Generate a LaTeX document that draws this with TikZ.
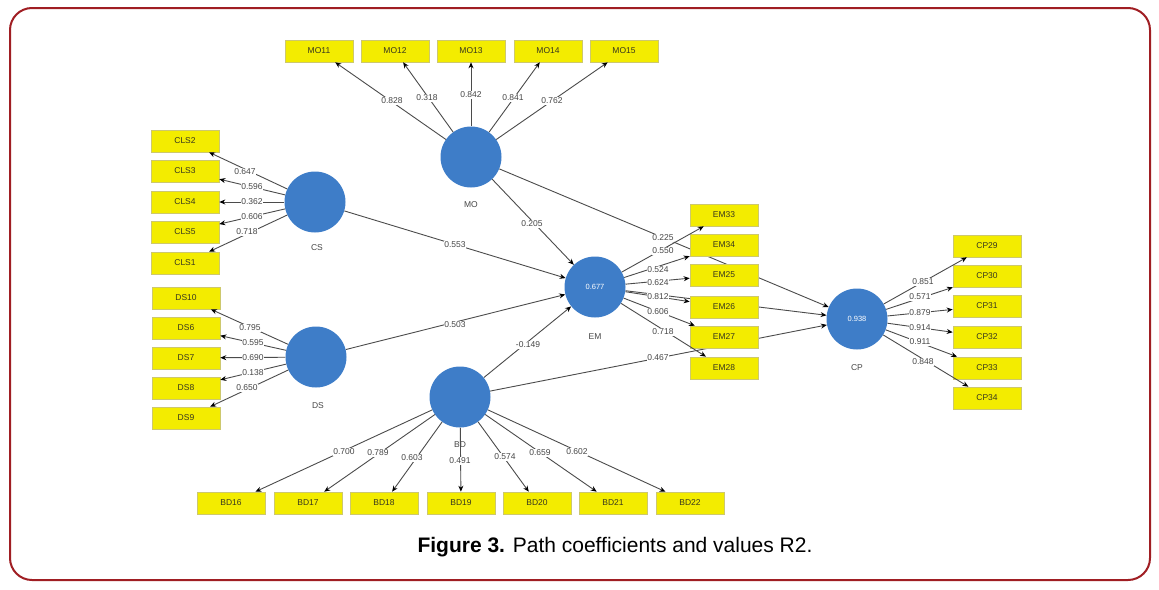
\documentclass[tikz,border=0pt]{standalone}
\usepackage{fontspec}
\setmainfont{Liberation Sans}
\usetikzlibrary{arrows.meta,backgrounds}
\definecolor{lvblue}{RGB}{62,125,200}
\definecolor{mvyellow}{RGB}{243,236,0}
\definecolor{mvborder}{RGB}{205,200,110}
\definecolor{mvtext}{RGB}{55,55,30}
\definecolor{framered}{RGB}{160,30,35}
\definecolor{edgegray}{RGB}{75,75,75}
\definecolor{labgray}{RGB}{70,70,70}
\begin{document}
\begin{tikzpicture}[x=1pt,y=-1pt,
  latent/.style={circle,fill=lvblue,minimum size=61pt,inner sep=0pt,text=white,font=\fontsize{7.5}{8}\selectfont},
  manifest/.style={rectangle,fill=mvyellow,draw=mvborder,line width=0.6pt,minimum width=68pt,minimum height=22pt,inner sep=0pt,text=mvtext,font=\fontsize{8.5}{9}\selectfont},
  lvname/.style={text=labgray,font=\fontsize{8.5}{9}\selectfont},
  coef/.style={fill=white,inner sep=0.8pt,text=labgray,font=\fontsize{8.5}{9}\selectfont},
  link/.style={draw=edgegray,line width=0.9pt,-{Stealth[length=6pt,width=5pt,color=black]}},
  ]
\useasboundingbox (0,0) rectangle (1159,589);
\draw[framered,line width=2pt,rounded corners=22pt] (10,8) rectangle (1150,580);

% latent variables
\node[latent] (MO) at (471,157) {};
\node[latent] (CS) at (315,202) {};
\node[latent] (DS) at (316,357) {};
\node[latent] (BD) at (460,397) {};
\node[latent] (EM) at (595,287) {0.677};
\node[latent] (CP) at (857,319) {0.938};
\node[lvname] (nMO) at (471,205) {MO};
\node[lvname] (nCS) at (317,248) {CS};
\node[lvname] (nDS) at (318,406) {DS};
\node[lvname] (nBD) at (460,445) {BD};
\node[lvname] (nEM) at (595,337) {EM};
\node[lvname] (nCP) at (857,368) {CP};

% indicators
\foreach \n/\x in {MO11/319,MO12/395,MO13/471,MO14/548,MO15/624}
  \node[manifest] (\n) at (\x,51) {\n};
\foreach \n/\y in {CLS2/141,CLS3/171,CLS4/202,CLS5/232,CLS1/263}
  \node[manifest] (\n) at (185,\y) {\n};
\foreach \n/\y in {DS10/298,DS6/328,DS7/358,DS8/388,DS9/418}
  \node[manifest] (\n) at (186,\y) {\n};
\foreach \n/\x in {BD16/231,BD17/308,BD18/384,BD19/461,BD20/537,BD21/613,BD22/690}
  \node[manifest] (\n) at (\x,503) {\n};
\foreach \n/\y in {EM33/215,EM34/245,EM25/275,EM26/307,EM27/337,EM28/368}
  \node[manifest] (\n) at (724,\y) {\n};
\foreach \n/\y in {CP29/246,CP30/276,CP31/306,CP32/337,CP33/368,CP34/398}
  \node[manifest] (\n) at (987,\y) {\n};

% structural paths (behind the indicator boxes)
\begin{scope}[on background layer]
  \draw[link] (MO) -- (EM);
  \draw[link] (CS) -- (EM);
  \draw[link] (DS) -- (EM);
  \draw[link] (BD) -- (EM);
  \draw[link] (MO) -- (CP);
  \draw[link] (EM) -- (CP);
  \draw[link] (BD) -- (CP);
\end{scope}

% outer loadings
\foreach \n in {MO11,MO12,MO13,MO14,MO15} \draw[link] (MO) -- (\n);
\foreach \n in {CLS2,CLS3,CLS4,CLS5,CLS1} \draw[link] (CS) -- (\n);
\foreach \n in {DS10,DS6,DS7,DS8,DS9} \draw[link] (DS) -- (\n);
\foreach \n in {BD16,BD17,BD18,BD19,BD20,BD21,BD22} \draw[link] (BD) -- (\n);
\foreach \n in {EM33,EM34,EM25,EM26,EM27,EM28} \draw[link] (EM) -- (\n);
\foreach \n in {CP29,CP30,CP31,CP32,CP33,CP34} \draw[link] (CP) -- (\n);

% coefficient labels
\foreach \t/\x/\y [count=\i] in {0.828/392/101,0.318/427/98,0.842/471/95,0.841/513/98,0.762/552/101}
  \node[coef] (cMO\i) at (\x,\y) {\t};
\foreach \t/\x/\y [count=\i] in {0.647/245/172,0.596/252/187,0.362/252/202,0.606/252/217,0.718/247/232}
  \node[coef] (cCS\i) at (\x,\y) {\t};
\foreach \t/\x/\y [count=\i] in {0.795/250/328,0.595/253/343,0.690/253/358,0.138/253/373,0.650/247/388}
  \node[coef] (cDS\i) at (\x,\y) {\t};
\foreach \t/\x/\y [count=\i] in {0.700/344/452,0.789/378/453,0.603/412/458,0.491/460/461,0.574/505/457,0.659/540/453,0.602/577/452}
  \node[coef] (cBD\i) at (\x,\y) {\t};
\foreach \t/\x/\y [count=\i] in {0.550/663/251,0.524/658/270,0.624/658/283,0.812/658/297,0.606/658/312,0.718/663/332}
  \node[coef] (cEM\i) at (\x,\y) {\t};
\foreach \t/\x/\y [count=\i] in {0.851/923/282,0.571/920/297,0.879/920/313,0.914/920/328,0.911/920/342,0.848/923/362}
  \node[coef] (cCP\i) at (\x,\y) {\t};
\node[coef] (pMOEM) at (532,224) {0.205};
\node[coef] (pCSEM) at (455,245) {0.553};
\node[coef] (pDSEM) at (455,325) {0.503};
\node[coef] (pBDEM) at (528,345) {-0.149};
\node[coef] (pMOCP) at (663,238) {0.225};
\node[coef] (pBDCP) at (658,358) {0.467};

% caption
\node[font=\fontsize{21}{24}\selectfont] (caption) at (615,547) {\textbf{Figure 3.} Path coefficients and values R2.};
\end{tikzpicture}
\end{document}
